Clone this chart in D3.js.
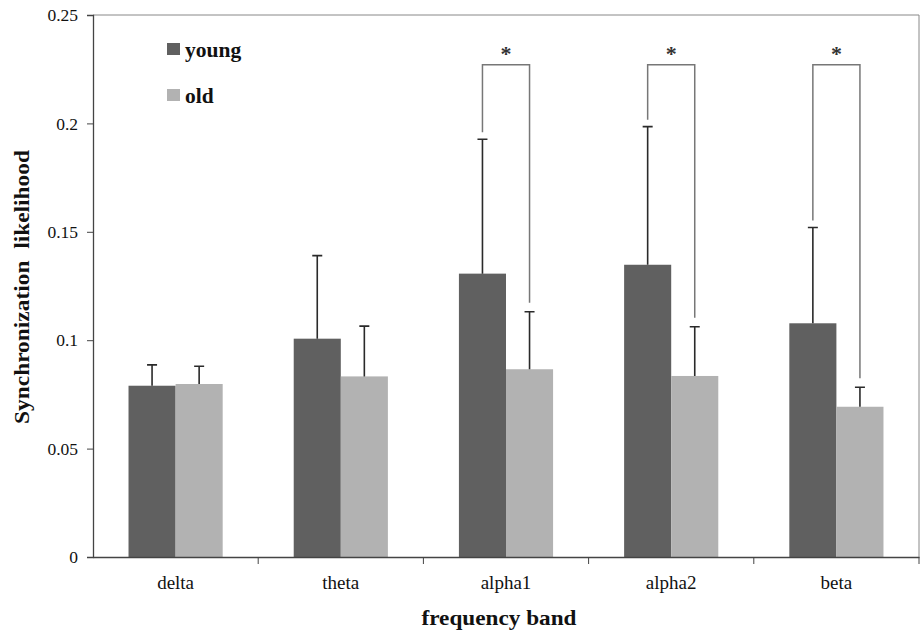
<!DOCTYPE html>
<html><head><meta charset="utf-8">
<script src="https://cdn.jsdelivr.net/npm/d3@7/dist/d3.min.js"></script>
<style>body{margin:0;background:#fff}svg{display:block}</style>
</head><body>
<svg id="chart" width="922" height="634"></svg>
<script>
const categories = ["delta","theta","alpha1","alpha2","beta"];
const groups = ["young","old"];
const youngMean = [0.079, 0.1007, 0.1307, 0.1348, 0.1078];
const youngSD   = [0.0096, 0.0383, 0.062, 0.0637, 0.0442];
const oldMean   = [0.0798, 0.0833, 0.0866, 0.0835, 0.0693];
const oldSD     = [0.0082, 0.0232, 0.0265, 0.0227, 0.009];
const significant = [false, false, true, true, true];
const bracketLevel = 0.227;
const yTicks = [0, 0.05, 0.1, 0.15, 0.2, 0.25];
const yTickLabels = ["0","0.05","0.1","0.15","0.2","0.25"];

const FONT = "'Liberation Serif','Times New Roman',serif";
const colors = {young:"#606060", old:"#b2b2b2"};
const svg = d3.select("#chart");
const pLeft = 93, pRight = 919, pTop = 15, pBottom = 557;

const x = d3.scaleBand().domain(categories).range([pLeft, pRight]).paddingInner(0.43).paddingOuter(0.215);
const xs = d3.scaleBand().domain(groups).range([0, x.bandwidth()]);
const y = d3.scaleLinear().domain([0, 0.25]).range([pBottom, pTop]);

// border (top and right)
svg.append("path").attr("d", `M${pLeft},${pTop}H${pRight}V${pBottom}`)
  .attr("fill","none").attr("stroke","#888").attr("stroke-width",1);

const data = categories.map((c,i)=>({cat:c, i, vals:[
  {g:"young", m:youngMean[i], sd:youngSD[i]},
  {g:"old", m:oldMean[i], sd:oldSD[i]}]}));

const gCat = svg.selectAll("g.cat").data(data).join("g").attr("class","cat")
  .attr("transform", d=>`translate(${x(d.cat)},0)`);

gCat.selectAll("rect").data(d=>d.vals).join("rect")
  .attr("x", d=>xs(d.g)).attr("width", xs.bandwidth())
  .attr("y", d=>y(d.m)).attr("height", d=>y(0)-y(d.m))
  .attr("fill", d=>colors[d.g]);

// error bars (upper only)
gCat.selectAll("path.err").data(d=>d.vals).join("path").attr("class","err")
  .attr("d", d=>{
    const cx = xs(d.g)+xs.bandwidth()/2, yt = y(d.m+d.sd);
    return `M${cx},${y(d.m)}V${yt}M${cx-5},${yt}H${cx+5}`;
  })
  .attr("fill","none").attr("stroke","#2a2a2a").attr("stroke-width",1.6);

// significance brackets
data.filter(d=>significant[d.i]).forEach(d=>{
  const x0 = x(d.cat)+xs("young")+xs.bandwidth()/2;
  const x1 = x(d.cat)+xs("old")+xs.bandwidth()/2;
  const yl = y(d.vals[0].m+d.vals[0].sd)-7;
  const yr = y(d.vals[1].m+d.vals[1].sd)-9;
  const yb = y(bracketLevel);
  svg.append("path").attr("d", `M${x0},${yl}V${yb}H${x1}V${yr}`)
    .attr("fill","none").attr("stroke","#777").attr("stroke-width",1.5);
  svg.append("text").attr("x",(x0+x1)/2).attr("y", yb-4)
    .attr("text-anchor","middle").attr("font-size",22).attr("font-weight","bold")
    .attr("font-family",FONT).attr("fill","#333").text("*");
});

// y axis
const yAxis = svg.append("g").attr("transform",`translate(${pLeft},0)`)
  .call(d3.axisLeft(y).tickValues(yTicks).tickFormat((d,i)=>yTickLabels[i]).tickSize(6).tickPadding(9));
yAxis.select(".domain").attr("stroke","#444").attr("stroke-width",1.3);
yAxis.selectAll(".tick line").attr("stroke","#444");
yAxis.selectAll("text").attr("font-size",17.5).attr("fill","#111").attr("font-family",FONT);

// x axis
const xAxis = svg.append("g").attr("transform",`translate(0,${pBottom})`)
  .call(d3.axisBottom(x).tickSize(0).tickPadding(0));
xAxis.select(".domain").attr("stroke","#444").attr("stroke-width",1.3);
xAxis.selectAll("text").attr("dy",null).attr("y",32).attr("font-size",19)
  .attr("fill","#111").attr("font-family",FONT);
// tick marks between categories
const bounds = categories.map((c,i)=>x(c)+x.bandwidth()+ (x.step()-x.bandwidth())/2);
svg.append("g").selectAll("line").data(bounds).join("line")
  .attr("x1",d=>d).attr("x2",d=>d).attr("y1",pBottom).attr("y2",pBottom+7)
  .attr("stroke","#444").attr("stroke-width",1);

// axis titles
svg.append("text").attr("x", 499).attr("y", 625).attr("text-anchor","middle")
  .attr("font-family",FONT).attr("font-size",22).attr("font-weight","bold").attr("fill","#111")
  .attr("textLength",155).attr("lengthAdjust","spacingAndGlyphs").text("frequency band");
svg.append("text").attr("transform","translate(29,287) rotate(-90)").attr("text-anchor","middle")
  .attr("font-family",FONT).attr("font-size",22).attr("font-weight","bold").attr("fill","#111")
  .attr("textLength",274).attr("lengthAdjust","spacingAndGlyphs")
  .style("white-space","pre").text("Synchronization  likelihood");

// legend
const leg = svg.append("g");
groups.forEach((g,i)=>{
  const ly = 43 + i*46;
  leg.append("rect").attr("x",167).attr("y",ly).attr("width",13).attr("height",12).attr("fill",colors[g]);
  leg.append("text").attr("x",185).attr("y",ly+14).attr("font-size",21.5).attr("font-weight","bold")
    .attr("font-family",FONT).attr("fill","#111").text(g);
});
</script>
</body></html>
